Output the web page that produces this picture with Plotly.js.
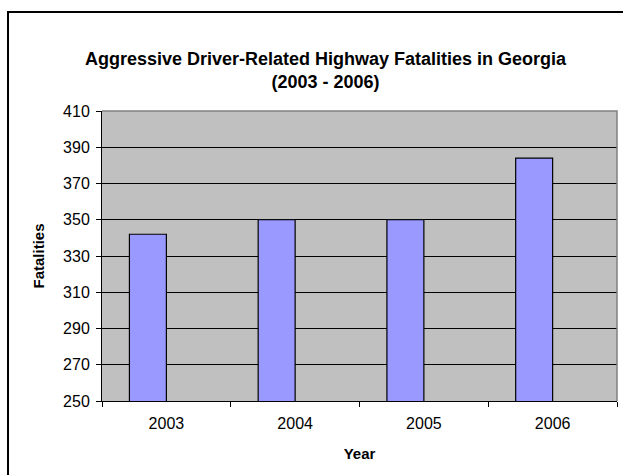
<!DOCTYPE html>
<html>
<head>
<meta charset="utf-8">
<script src="https://cdn.plot.ly/plotly-3.0.1.min.js"></script>
<style>
  html, body { margin: 0; padding: 0; background: #ffffff; }
  #chart { width: 623px; height: 475px; }
</style>
</head>
<body>
<div id="chart"></div>
<script>
// Aggressive driver-related highway fatalities, Georgia 2003-2006
const years = ['2003', '2004', '2005', '2006'];
const fatalities = [342, 350, 350, 384];
const yTicks = [250, 270, 290, 310, 330, 350, 370, 390, 410];

const FONT = 'Liberation Sans, Arial, Helvetica, sans-serif';
const BAR_W = 0.287;   // bar width in category units

const trace = {
  type: 'bar',
  x: years,
  y: fatalities,
  width: BAR_W,
  offset: -BAR_W,     // bar sits in the left half of its category slot
  marker: { color: '#9999FF', line: { color: '#000000', width: 1.2 } },
  hoverinfo: 'x+y',
  showlegend: false
};

const layout = {
  width: 623,
  height: 475,
  margin: { l: 102, r: 6, t: 111, b: 74, pad: 0 },
  paper_bgcolor: '#ffffff',
  plot_bgcolor: '#C0C0C0',
  font: { family: FONT, size: 16, color: '#000000' },
  title: {
    text: '<b>Aggressive Driver-Related Highway Fatalities in Georgia</b><br><b>(2003 - 2006)</b>',
    font: { family: FONT, size: 18, color: '#000000' },
    x: 0.5225, xanchor: 'center', xref: 'container',
    y: 1 - 65 / 475, yanchor: 'middle', yref: 'container'
  },
  xaxis: {
    type: 'category',
    categoryorder: 'array',
    categoryarray: years,
    showline: true, linecolor: '#000000', linewidth: 1,
    ticks: 'outside', tickson: 'boundaries', ticklen: 5, tickcolor: '#000000',
    ticklabelstandoff: 8,
    showgrid: false, zeroline: false,
    tickfont: { family: FONT, size: 16, color: '#000000' },
    title: { text: '<b>Year</b>', font: { family: FONT, size: 15 }, standoff: 17 }
  },
  yaxis: {
    range: [250, 410],
    tickmode: 'array',
    tickvals: yTicks,
    ticktext: yTicks.map(String),
    showline: true, linecolor: '#000000', linewidth: 1,
    ticks: 'outside', ticklen: 5, tickcolor: '#000000',
    ticklabelstandoff: 3,
    showgrid: true, gridcolor: '#000000', gridwidth: 1,
    zeroline: false,
    tickfont: { family: FONT, size: 16, color: '#000000' },
    title: { text: '<b>Fatalities</b>', font: { family: FONT, size: 15 }, standoff: 14 }
  },
  shapes: [
    // plot-area frame on the top and right sides
    { type: 'path', xref: 'paper', yref: 'paper', layer: 'above',
      path: 'M 0 1 L 1 1 L 1 0', line: { color: '#808080', width: 1.5 } },
    // chart-area frame, running off the right and bottom of the page
    { type: 'rect', xref: 'paper', yref: 'paper', layer: 'above',
      x0: -0.1825, x1: 2, y0: -1, y1: 1.341,
      line: { color: '#000000', width: 2 }, fillcolor: 'rgba(0,0,0,0)' }
  ]
};

Plotly.newPlot('chart', [trace], layout, { displayModeBar: false, staticPlot: true });
</script>
</body>
</html>
